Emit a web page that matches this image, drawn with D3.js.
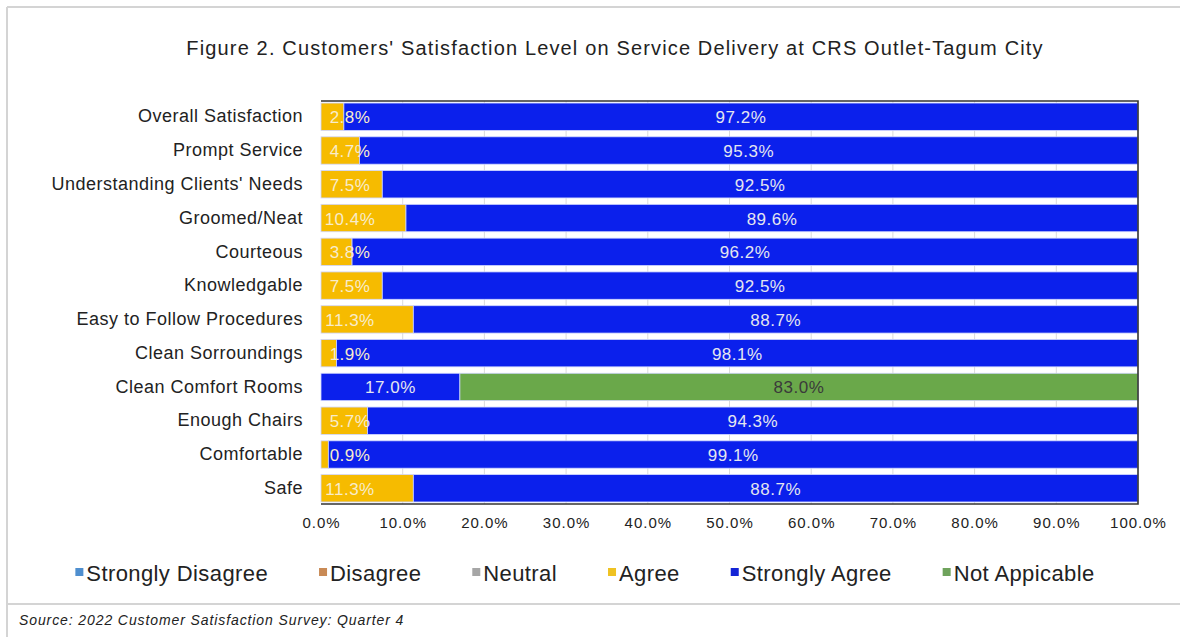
<!DOCTYPE html>
<html>
<head>
<meta charset="utf-8">
<script src="https://cdn.jsdelivr.net/npm/d3@7"></script>
<style>
  body { margin: 0; background: #fff; }
  svg { display: block; font-family: "Liberation Sans", Arial, sans-serif; }
</style>
</head>
<body>
<svg id="chart" width="1180" height="637"></svg>
<script>
// Survey items, top to bottom
const categories = [
  "Overall Satisfaction", "Prompt Service", "Understanding Clients' Needs",
  "Groomed/Neat", "Courteous", "Knowledgable", "Easy to Follow Procedures",
  "Clean Sorroundings", "Clean Comfort Rooms", "Enough Chairs", "Comfortable", "Safe"
];

// Share of respondents per rating (percent)
const stronglyDisagree = [0, 0, 0, 0, 0, 0, 0, 0, 0, 0, 0, 0];
const disagree         = [0, 0, 0, 0, 0, 0, 0, 0, 0, 0, 0, 0];
const neutral          = [0, 0, 0, 0, 0, 0, 0, 0, 0, 0, 0, 0];
const agree            = [2.8, 4.7, 7.5, 10.4, 3.8, 7.5, 11.3, 1.9, 0, 5.7, 0.9, 11.3];
const stronglyAgree    = [97.2, 95.3, 92.5, 89.6, 96.2, 92.5, 88.7, 98.1, 17.0, 94.3, 99.1, 88.7];
const notApplicable    = [0, 0, 0, 0, 0, 0, 0, 0, 83.0, 0, 0, 0];

const seriesNames = ["Strongly Disagree", "Disagree", "Neutral", "Agree", "Strongly Agree", "Not Appicable"];
const seriesValues = [stronglyDisagree, disagree, neutral, agree, stronglyAgree, notApplicable];

const xTicks = [0, 0.1, 0.2, 0.3, 0.4, 0.5, 0.6, 0.7, 0.8, 0.9, 1.0];

const titleText = "Figure 2. Customers' Satisfaction Level on Service Delivery at CRS Outlet-Tagum City";
const sourceText = "Source: 2022 Customer Satisfaction Survey: Quarter 4";

// Styling
const barColors    = ["#4f8fcf", "#c98a55", "#a6a6a6", "#f6bb00", "#0b20ec", "#6aa84a"];
const legendColors = ["#4f8fcf", "#c98a55", "#a6a6a6", "#efc222", "#1424d6", "#6fa35c"];
const labelColors  = ["#eeeeee", "#eeeeee", "#eeeeee", "#f8eccb", "#e4e6f0", "#3a3a3a"];

const svg = d3.select("#chart");

// Outer frame of the figure
const frame = svg.append("g").attr("stroke", "#d4d4d4").attr("stroke-width", 2);
frame.append("line").attr("x1", 7).attr("x2", 1180).attr("y1", 7).attr("y2", 7);
frame.append("line").attr("x1", 7).attr("x2", 7).attr("y1", 7).attr("y2", 637);
frame.append("line").attr("x1", 7).attr("x2", 1180).attr("y1", 604).attr("y2", 604);

// Title
svg.append("text")
  .attr("x", 615).attr("y", 55)
  .attr("text-anchor", "middle")
  .attr("font-size", 20)
  .attr("letter-spacing", 1.15)
  .attr("fill", "#222")
  .text(titleText);

// Scales
const plot = { left: 321, right: 1138, top: 101, bottom: 504 };
const x = d3.scaleLinear().domain([0, 1]).range([plot.left, plot.right]);
const y = d3.scaleBand().domain(categories).range([plot.top, plot.bottom])
  .paddingInner(0.19).paddingOuter(0.06);

// Gridlines
svg.append("g")
  .selectAll("line")
  .data(xTicks.slice(1, -1))
  .join("line")
  .attr("x1", d => x(d)).attr("x2", d => x(d))
  .attr("y1", plot.top).attr("y2", plot.bottom)
  .attr("stroke", "#dadada").attr("stroke-width", 1);

// Stacked data
const rows = categories.map((c, i) => {
  const r = { category: c };
  seriesNames.forEach((s, k) => { r[s] = seriesValues[k][i] / 100; });
  return r;
});
const stacked = d3.stack().keys(seriesNames)(rows);

const layers = svg.append("g")
  .selectAll("g")
  .data(stacked)
  .join("g")
  .attr("fill", (d, k) => barColors[k]);

layers.selectAll("rect")
  .data(d => d.filter(p => p[1] - p[0] > 0))
  .join("rect")
  .attr("x", p => x(p[0]))
  .attr("y", p => y(p.data.category))
  .attr("width", p => x(p[1]) - x(p[0]))
  .attr("height", y.bandwidth())
  .attr("stroke", "#cfd6ff")
  .attr("stroke-width", 0.8);

// Value labels
const labelGroup = svg.append("g")
  .attr("font-size", 17)
  .attr("letter-spacing", 0.5)
  .attr("text-anchor", "middle")
  .attr("dominant-baseline", "central");

stacked.forEach((layer, k) => {
  const name = seriesNames[k];
  layer.forEach(p => {
    const v = p[1] - p[0];
    if (v <= 0) return;
    // small "Agree" slices keep their label near the start of the bar
    const cx = name === "Agree" ? x(p[0]) + 29 : (x(p[0]) + x(p[1])) / 2;
    labelGroup.append("text")
      .attr("x", cx)
      .attr("y", y(p.data.category) + y.bandwidth() / 2 + 1)
      .attr("fill", labelColors[k])
      .text(d3.format(".1%")(v));
  });
});

// Plot border (top, right, bottom)
const border = svg.append("g").attr("stroke", "#333").attr("stroke-width", 1.6).attr("fill", "none");
border.append("path")
  .attr("d", `M${plot.left},${plot.top}H${plot.right}V${plot.bottom}H${plot.left}`);

// Category axis
const yAxis = svg.append("g")
  .attr("transform", `translate(${plot.left},0)`)
  .call(d3.axisLeft(y).tickSize(0).tickPadding(18));
yAxis.select(".domain").remove();
yAxis.selectAll("text")
  .attr("font-size", 18)
  .attr("letter-spacing", 0.5)
  .attr("fill", "#222")
  .attr("font-family", "Liberation Sans, Arial, sans-serif");

// Percentage axis
const xAxis = svg.append("g")
  .attr("transform", `translate(0,${plot.bottom})`)
  .call(d3.axisBottom(x).tickValues(xTicks).tickFormat(d3.format(".1%")).tickSize(0).tickPadding(13));
xAxis.select(".domain").remove();
xAxis.selectAll("text")
  .attr("font-size", 15)
  .attr("letter-spacing", 1)
  .attr("fill", "#222")
  .attr("font-family", "Liberation Sans, Arial, sans-serif");

// Legend
const legend = svg.append("g").attr("font-size", 22).attr("letter-spacing", 0.4).attr("fill", "#222");
const items = legend.selectAll("g")
  .data(seriesNames)
  .join("g");
items.append("rect")
  .attr("width", 8).attr("height", 8)
  .attr("y", -4)
  .attr("fill", (d, k) => legendColors[k]);
items.append("text")
  .attr("x", 11)
  .attr("dominant-baseline", "central")
  .attr("dy", 1)
  .text(d => d);

const itemGap = 51;
let cursor = 0;
const widths = [];
items.each(function () {
  const w = 11 + d3.select(this).select("text").node().getComputedTextLength();
  widths.push(w);
});
const totalWidth = d3.sum(widths) + itemGap * (widths.length - 1);
cursor = 585 - totalWidth / 2;
items.attr("transform", (d, k) => {
  const t = `translate(${cursor},572)`;
  cursor += widths[k] + itemGap;
  return t;
});

// Source note
svg.append("text")
  .attr("x", 19).attr("y", 625)
  .attr("font-size", 14)
  .attr("font-style", "italic")
  .attr("letter-spacing", 0.9)
  .attr("fill", "#222")
  .text(sourceText);
</script>
</body>
</html>
